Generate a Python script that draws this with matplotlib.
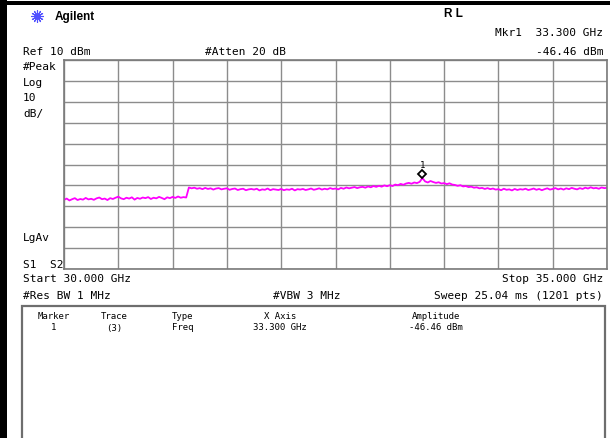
"""Agilent spectrum analyzer screen, 30-35 GHz sweep with marker at 33.3 GHz"""
import numpy as np
import matplotlib
matplotlib.use('Agg')
import matplotlib.pyplot as plt
from matplotlib.lines import Line2D
from matplotlib.patches import Rectangle
import matplotlib.transforms as mtransforms

# sweep settings
start_ghz = 30.0
stop_ghz = 35.0
n_points = 201
ref_dbm = 10.0
db_per_div = 10.0

# trace, dBm, every 0.025 GHz
trace_dbm = [
    -56.9, -56.3, -57.2, -56.6, -56.1, -57.0, -56.5, -56.8, -56.0, -56.7,
    -56.4, -56.9, -56.2, -55.8, -56.6, -56.3, -57.0, -56.1, -56.5, -55.9,
    -55.4, -56.2, -56.6, -55.9, -56.3, -55.7, -56.8, -56.0, -56.4, -55.8,
    -56.1, -55.6, -56.5, -55.9, -56.2, -55.5, -56.0, -56.6, -55.7, -56.1,
    -55.5, -56.0, -55.3, -55.9, -55.6, -55.8, -51.0, -51.4, -51.1, -51.6,
    -51.3, -51.8, -51.2, -51.7, -51.4, -52.0, -51.5, -51.3, -51.9, -51.6,
    -51.4, -52.1, -51.7, -51.5, -52.2, -51.8, -51.6, -52.3, -51.9, -51.7,
    -52.0, -51.6, -52.4, -51.9, -52.1, -51.5, -52.3, -51.8, -52.0, -52.2,
    -51.7, -52.3, -51.9, -52.1, -51.6, -52.4, -51.8, -52.0, -51.7, -52.2,
    -51.9, -51.5, -52.1, -51.8, -51.4, -52.0, -51.6, -51.9, -51.3, -51.7,
    -51.5, -51.9, -51.2, -51.6, -51.0, -51.4, -51.1, -50.8, -51.3, -50.9,
    -50.7, -51.1, -50.5, -50.9, -50.3, -50.7, -50.2, -50.6, -50.0, -50.4,
    -49.9, -50.3, -49.6, -49.9, -49.3, -49.7, -49.1, -48.8, -49.2, -48.6,
    -48.9, -48.3, -46.5, -48.1, -48.6, -47.9, -48.4, -48.8, -48.5, -49.1,
    -48.9, -49.4, -49.0, -49.6, -49.8, -50.2, -49.9, -50.5, -50.3, -50.8,
    -50.6, -51.1, -50.9, -51.4, -51.2, -51.7, -51.3, -51.8, -51.5, -52.0,
    -51.8, -52.3, -51.6, -52.1, -51.9, -52.4, -51.7, -52.2, -51.8, -52.0,
    -51.6, -52.2, -51.9, -51.5, -52.1, -51.7, -52.3, -51.8, -51.4, -52.0,
    -51.7, -51.3, -51.9, -51.5, -52.0, -51.4, -51.8, -51.2, -51.6, -51.9,
    -51.3, -51.7, -51.1, -51.5, -50.9, -51.4, -51.2, -51.6, -51.0, -51.3,
    -51.2,
]

# marker 1
mkr_ghz = 33.300
mkr_dbm = -46.46

# marker table
table_header = ['Marker', 'Trace', 'Type', 'X Axis', 'Amplitude']
table_row = ['1', '(3)', 'Freq', '33.300 GHz', '-46.46 dBm']

W, H = 610, 439
MAGENTA = '#ff00ff'
GRID = '#8c8c8c'
MONO = 'DejaVu Sans Mono'


def px(x, y):
    # pixel coords (from top left) -> figure fraction
    return x / W, 1 - y / H


def label(x, y, s, ha='left', size=8.0, family=MONO, weight='normal', color='black'):
    fx, fy = px(x, y)
    fig.text(fx, fy, s, ha=ha, va='center', fontsize=size, family=family,
             weight=weight, color=color)


fig = plt.figure(figsize=(W / 100, H / 100), dpi=100)

# frame of the screenshot
fig.add_artist(Rectangle(px(0, H), 7 / W, 1, transform=fig.transFigure,
                         color='black', lw=0))
fig.add_artist(Rectangle(px(0, 6), 1, 4 / H, transform=fig.transFigure,
                         color='black', lw=0))

# graticule
l, t = px(64, 61)
r, b = px(607, 270)
ax = fig.add_axes([l, b, r - l, t - b])
bottom_dbm = ref_dbm - 10 * db_per_div
ax.set_xlim(start_ghz, stop_ghz)
ax.set_ylim(bottom_dbm, ref_dbm)
ax.set_xticks(np.linspace(start_ghz, stop_ghz, 11))
ax.set_yticks(np.arange(bottom_dbm, ref_dbm + 1, db_per_div))
ax.tick_params(length=0, labelbottom=False, labelleft=False)
ax.grid(True, color=GRID, lw=1.0)
for s in ax.spines.values():
    s.set_color('#7a7a7a')
    s.set_linewidth(1.2)

freq = np.linspace(start_ghz, stop_ghz, n_points)
ax.plot(freq, trace_dbm, color=MAGENTA, lw=1.3)

# marker diamond sits a little above the point, number above it
up4 = mtransforms.offset_copy(ax.transData, fig=fig, x=0, y=4, units='dots')
ax.plot([mkr_ghz], [mkr_dbm], marker='D', ms=4.5, mfc='white', mec='black',
        mew=1.3, transform=up4)
up14 = mtransforms.offset_copy(ax.transData, fig=fig, x=0, y=14, units='dots')
ax.text(mkr_ghz, mkr_dbm, '1', transform=up14, ha='center', va='center',
        fontsize=6.5, family=MONO)

# header
fx, fy = px(37, 17)
fig.add_artist(Line2D([fx], [fy], marker=(12, 2, 0), ms=9, mew=0.8,
                      color='#5050ff', transform=fig.transFigure))
label(55, 17, 'Agilent', size=8.5, family='Liberation Sans', weight='bold')
label(453, 14, 'R L', ha='center', size=8.5, family='Liberation Sans', weight='bold')
label(603, 33, 'Mkr1  %.3f GHz' % mkr_ghz, ha='right')
label(603, 52, '%.2f dBm' % mkr_dbm, ha='right')
label(23, 52, 'Ref %d dBm' % ref_dbm)
label(205, 52, '#Atten 20 dB')

# left annotations
label(23, 67, '#Peak')
label(23, 83, 'Log')
label(23, 98, '10')
label(23, 114, 'dB/')
label(23, 238, 'LgAv')
label(23, 265, 'S1  S2')

# footer
label(23, 279, 'Start %.3f GHz' % start_ghz)
label(603, 279, 'Stop %.3f GHz' % stop_ghz, ha='right')
label(23, 296, '#Res BW 1 MHz')
label(273, 296, '#VBW 3 MHz')
label(603, 296, 'Sweep 25.04 ms (1201 pts)', ha='right')

# marker table
x0, y0 = px(22, H + 5)
x1, y1 = px(605, 307)
fig.add_artist(Rectangle((x0, y0), x1 - x0, y1 - y0, transform=fig.transFigure,
                         fill=False, ec='#6e6e6e', lw=1.6))
col_x = [54, 114, 172, 280, 436]
col_ha = ['center', 'center', 'left', 'center', 'center']
for cx, ha, h, v in zip(col_x, col_ha, table_header, table_row):
    label(cx, 317, h, ha=ha, size=6.5)
    label(cx, 328, v, ha=ha, size=6.5)

fig.savefig('out.png', dpi=100)
